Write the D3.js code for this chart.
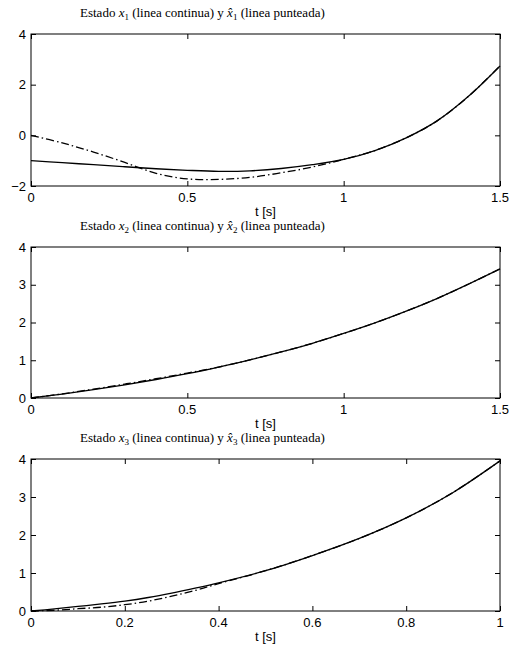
<!DOCTYPE html>
<html>
<head>
<meta charset="utf-8">
<script src="https://cdn.jsdelivr.net/npm/d3@7"></script>
<style>
  body { margin: 0; background: #fff; }
  svg { display: block; }
  .tick-label { font-family: "Liberation Sans", Arial, sans-serif; font-size: 13px; fill: #000; }
  .title { font-family: "Liberation Serif", "DejaVu Serif", serif; font-size: 13px; fill: #000; }
</style>
</head>
<body>
<div id="chart"></div>
<script>
// sample times
const tA = [0, 0.1, 0.2, 0.3, 0.4, 0.5, 0.6, 0.7, 0.8, 0.9, 1.0, 1.1, 1.2, 1.3, 1.4, 1.5];
const tB = [0, 0.05, 0.1, 0.15, 0.2, 0.25, 0.3, 0.35, 0.4, 0.5, 0.6, 0.7, 0.8, 0.9, 1.0];

// state 1 (solid) and estimate (dash-dot)
const x1    = [-1.0, -1.08, -1.16, -1.24, -1.32, -1.38, -1.42, -1.40, -1.31, -1.16, -0.95, -0.6, -0.1, 0.58, 1.55, 2.74];
const x1hat = [0, -0.3, -0.66, -1.07, -1.5, -1.72, -1.74, -1.66, -1.48, -1.25, -0.95, -0.6, -0.1, 0.58, 1.55, 2.74];

// state 2
const x2    = [0, 0.105, 0.22, 0.35, 0.49, 0.645, 0.82, 1.01, 1.22, 1.45, 1.71, 1.99, 2.30, 2.64, 3.02, 3.42];
const x2hat = [0, 0.11, 0.235, 0.37, 0.51, 0.66, 0.82, 1.01, 1.22, 1.45, 1.71, 1.99, 2.30, 2.64, 3.02, 3.42];

// state 3
const x3    = [0, 0.055, 0.12, 0.185, 0.26, 0.355, 0.47, 0.6, 0.74, 1.06, 1.46, 1.91, 2.45, 3.12, 3.95];
const x3hat = [0, 0.02, 0.06, 0.1, 0.165, 0.26, 0.39, 0.54, 0.72, 1.06, 1.46, 1.91, 2.45, 3.12, 3.95];

const xTicksA = [0, 0.5, 1, 1.5];
const xTicksB = [0, 0.2, 0.4, 0.6, 0.8, 1];
const yTicks1 = [-2, 0, 2, 4];
const yTicks23 = [0, 1, 2, 3, 4];

const width = 511, height = 654;
const left = 31, right = 500;

const svg = d3.select("#chart")
    .append("svg")
    .attr("width", width)
    .attr("height", height);

const drawPanel = (p) => {
    const xScale = d3.scaleLinear().domain(p.xDomain).range([left, right]);
    const yScale = d3.scaleLinear().domain(p.yDomain).range([p.bottom, p.top]);

    const g = svg.append("g");

    const lineGen = d3.line()
        .x(d => xScale(d[0]))
        .y(d => yScale(d[1]))
        .curve(d3.curveCatmullRom);

    // estimate first (dash-dot), then the real state on top
    g.append("path")
        .attr("d", lineGen(p.t.map((t, i) => [t, p.est[i]])))
        .attr("fill", "none")
        .attr("stroke", "#000")
        .attr("stroke-width", 1.3)
        .attr("stroke-dasharray", "8 3 1.5 3");

    g.append("path")
        .attr("d", lineGen(p.t.map((t, i) => [t, p.real[i]])))
        .attr("fill", "none")
        .attr("stroke", "#000")
        .attr("stroke-width", 1.3);

    // box axes with inward ticks on all four sides
    const tl = 5;
    g.append("g")
        .attr("transform", `translate(0, ${p.bottom})`)
        .call(d3.axisTop(xScale).tickValues(p.xTicks).tickSize(tl).tickFormat(""))
        .call(s => s.select(".domain").remove());
    g.append("g")
        .attr("transform", `translate(0, ${p.top})`)
        .call(d3.axisBottom(xScale).tickValues(p.xTicks).tickSize(tl).tickFormat(""))
        .call(s => s.select(".domain").remove());
    g.append("g")
        .attr("transform", `translate(${left}, 0)`)
        .call(d3.axisRight(yScale).tickValues(p.yTicks).tickSize(tl).tickFormat(""))
        .call(s => s.select(".domain").remove());
    g.append("g")
        .attr("transform", `translate(${right}, 0)`)
        .call(d3.axisLeft(yScale).tickValues(p.yTicks).tickSize(tl).tickFormat(""))
        .call(s => s.select(".domain").remove());

    g.append("rect")
        .attr("x", left)
        .attr("y", p.top)
        .attr("width", right - left)
        .attr("height", p.bottom - p.top)
        .attr("fill", "none")
        .attr("stroke", "#000")
        .attr("stroke-width", 1);

    // tick labels
    g.selectAll(".xl")
        .data(p.xTicks)
        .join("text")
        .attr("class", "tick-label")
        .attr("x", d => xScale(d))
        .attr("y", p.bottom + 16)
        .attr("text-anchor", "middle")
        .text(d => d);

    g.selectAll(".yl")
        .data(p.yTicks)
        .join("text")
        .attr("class", "tick-label")
        .attr("x", left - 5)
        .attr("y", d => yScale(d) + 4.5)
        .attr("text-anchor", "end")
        .text(d => d < 0 ? "\u2212" + Math.abs(d) : d);

    g.append("text")
        .attr("class", "tick-label")
        .attr("x", (left + right) / 2)
        .attr("y", p.bottom + 30)
        .attr("text-anchor", "middle")
        .text("t [s]");

    // title with math pieces
    const title = g.append("text")
        .attr("class", "title")
        .attr("x", 80)
        .attr("y", p.top - 17);
    title.append("tspan").text("Estado ");
    title.append("tspan").attr("font-style", "italic").text("x");
    title.append("tspan").attr("font-size", "9px").attr("dy", 3).text(p.idx);
    title.append("tspan").attr("dy", -3).text("  (linea continua) y ");
    title.append("tspan").attr("font-style", "italic").text("x\u0302");
    title.append("tspan").attr("font-size", "9px").attr("dy", 3).text(p.idx);
    title.append("tspan").attr("dy", -3).text("  (linea punteada)");
};

drawPanel({ idx: "1", t: tA, real: x1, est: x1hat, xDomain: [0, 1.5], yDomain: [-2, 4],
    xTicks: xTicksA, yTicks: yTicks1, top: 34, bottom: 186 });
drawPanel({ idx: "2", t: tA, real: x2, est: x2hat, xDomain: [0, 1.5], yDomain: [0, 4],
    xTicks: xTicksA, yTicks: yTicks23, top: 247, bottom: 398 });
drawPanel({ idx: "3", t: tB, real: x3, est: x3hat, xDomain: [0, 1], yDomain: [0, 4],
    xTicks: xTicksB, yTicks: yTicks23, top: 459, bottom: 611 });
</script>
</body>
</html>
